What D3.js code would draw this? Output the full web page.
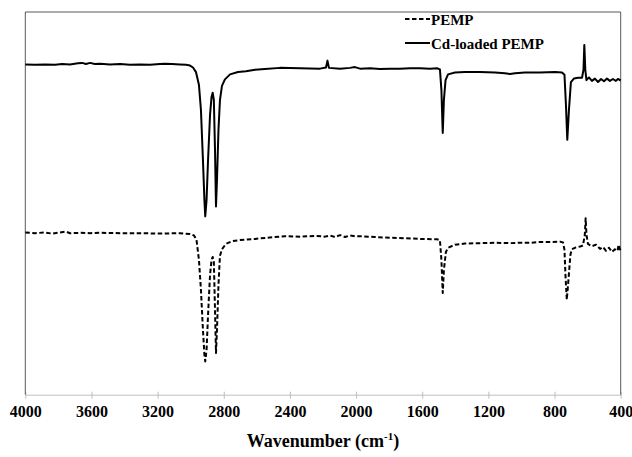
<!DOCTYPE html>
<html><head><meta charset="utf-8">
<script src="https://cdn.jsdelivr.net/npm/d3@7"></script>
<style>body{margin:0;background:#fff}svg{display:block}text{font-family:"Liberation Serif","Times New Roman",serif;font-weight:bold;fill:#000}</style>
</head><body><svg id="c" width="632" height="457"></svg>
<script>
// Wavenumber (cm-1) and transmittance (a.u.)
const cdWavenumber = [4000,3941,3881,3820,3778,3730,3681,3657,3633,3609,3579,3548,3488,3427,3367,3307,3246,3186,3155,3113,3065,3028,3004,2986,2968,2950,2938,2926,2917,2912,2904,2895,2883,2874,2867,2860,2853,2847,2841,2832,2823,2811,2793,2762,2714,2666,2611,2551,2460,2339,2218,2182,2173,2164,2097,2037,2007,1976,1916,1855,1795,1735,1674,1614,1553,1511,1493,1484,1476,1469,1459,1444,1402,1342,1251,1160,1100,1069,1039,979,888,797,755,740,731,723,713,701,683,658,634,625,620,614,607,592,574,556,537,519,501,483,465,447,429,417,400];
const cdValues = [86.3,86.2,86.3,86.2,86.4,86.3,86.6,86.7,86.4,86.7,86.4,86.5,86.3,86.4,86.2,86.3,86.2,86.4,86.5,86.4,86.3,86.2,86.0,85.5,84.3,80.9,74.4,61.4,50.9,46.6,50.9,61.4,73.1,77.8,78.9,77.0,64.0,49.2,56.1,69.2,77.0,80.7,82.4,83.7,84.3,84.5,84.9,85.1,85.4,85.3,85.2,85.5,87.3,85.4,85.2,85.4,85.6,85.2,85.3,85.1,85.2,85.2,85.3,85.3,85.2,85.3,85.0,79.6,68.4,77.0,82.2,83.7,84.2,84.3,84.3,84.2,84.0,83.8,84.0,84.2,84.2,84.3,84.2,83.6,75.7,66.6,74.4,81.7,82.6,82.8,82.8,84.9,91.4,84.9,82.2,82.9,82.0,82.6,81.7,82.5,81.9,82.6,82.0,82.5,82.0,82.5,82.1];

const pempWavenumber = [4000,3941,3881,3839,3790,3754,3730,3669,3609,3548,3427,3307,3186,3065,3004,2980,2965,2950,2938,2926,2917,2912,2904,2895,2883,2874,2867,2860,2853,2847,2841,2832,2823,2811,2787,2750,2702,2611,2521,2430,2339,2248,2188,2158,2128,2097,2067,2037,2007,1964,1886,1795,1704,1614,1511,1493,1484,1476,1469,1457,1444,1402,1342,1251,1160,1069,1009,949,888,828,767,749,740,734,726,716,704,695,670,646,628,617,612,607,598,574,549,525,507,489,471,453,435,419,413,400];
const pempValues = [42.4,42.2,42.4,42.1,42.4,42.6,42.2,42.3,42.2,42.3,42.2,42.2,42.1,42.2,42.0,41.6,40.5,35.2,27.4,17.0,10.4,8.7,11.7,20.9,31.3,35.2,36.0,34.7,22.2,10.9,17.0,28.7,36.3,38.0,39.4,40.1,40.4,40.7,41.1,41.4,41.3,41.5,41.3,41.6,41.2,41.7,41.2,41.6,41.4,41.4,41.2,41.0,40.9,40.7,40.6,40.4,35.2,26.6,32.6,37.3,38.4,39.2,39.5,39.6,39.7,39.6,39.7,39.7,39.9,39.9,40.0,39.8,37.9,31.3,24.8,30.0,36.6,38.0,38.5,38.7,39.0,41.8,46.1,41.8,39.4,38.8,39.2,38.1,38.6,37.6,38.4,37.3,38.0,37.6,39.2,37.4];

const xTicks = [4000,3600,3200,2800,2400,2000,1600,1200,800,400];
const seriesNames = ["PEMP","Cd-loaded PEMP"];
const xTitle = "Wavenumber (cm";
const xTitleSup = "-1";

const svg = d3.select("#c");
const L = 25.3, R = 620.7, T = 12, B = 394.7;
const x = d3.scaleLinear().domain([4000,400]).range([L,R]);
const y = d3.scaleLinear().domain([0,100]).range([B,T]);

// bottom axis
const ax = svg.append("g").attr("transform",`translate(0,${B})`)
  .call(d3.axisBottom(x).tickValues(xTicks).tickFormat(d3.format("d")).tickSizeInner(4).tickSizeOuter(0).tickPadding(7));
ax.select(".domain").attr("stroke","#bfbfbf");
ax.selectAll(".tick line").attr("stroke","#bfbfbf").attr("y1",-3);
ax.selectAll(".tick text").style("font-size","16px").style("font-family","'Liberation Serif',serif").style("font-weight","bold").attr("fill","#000");

// frame (left, top, right)
svg.append("path").attr("d",`M${L},${B}V${T}H${R}V${B}`).attr("fill","none").attr("stroke","#595959").attr("stroke-width",1);

const line = d3.line().x(d=>x(d[0])).y(d=>y(d[1]));
const pemp = d3.zip(pempWavenumber,pempValues);
const cd = d3.zip(cdWavenumber,cdValues);
svg.append("path").datum(pemp).attr("d",line).attr("fill","none").attr("stroke","#000").attr("stroke-width",2).attr("stroke-dasharray","4.5,2.5").attr("stroke-linejoin","round");
svg.append("path").datum(cd).attr("d",line).attr("fill","none").attr("stroke","#000").attr("stroke-width",2).attr("stroke-linejoin","round");

// legend
const lg = svg.append("g");
[[19,"4.5,2.5"],[43,null]].forEach((r,i)=>{
  lg.append("line").attr("x1",405).attr("x2",430).attr("y1",r[0]).attr("y2",r[0]).attr("stroke","#000").attr("stroke-width",2).attr("stroke-dasharray",r[1]);
  lg.append("text").attr("x",431).attr("y",r[0]+5.5).style("font-size","15px").text(seriesNames[i]);
});

// title
const t = svg.append("text").attr("x",(L+R)/2).attr("y",447).attr("text-anchor","middle").style("font-size","18px");
t.append("tspan").text(xTitle);
t.append("tspan").attr("dy",-7).style("font-size","11px").text(xTitleSup);
t.append("tspan").attr("dy",7).text(")");
</script></body></html>
